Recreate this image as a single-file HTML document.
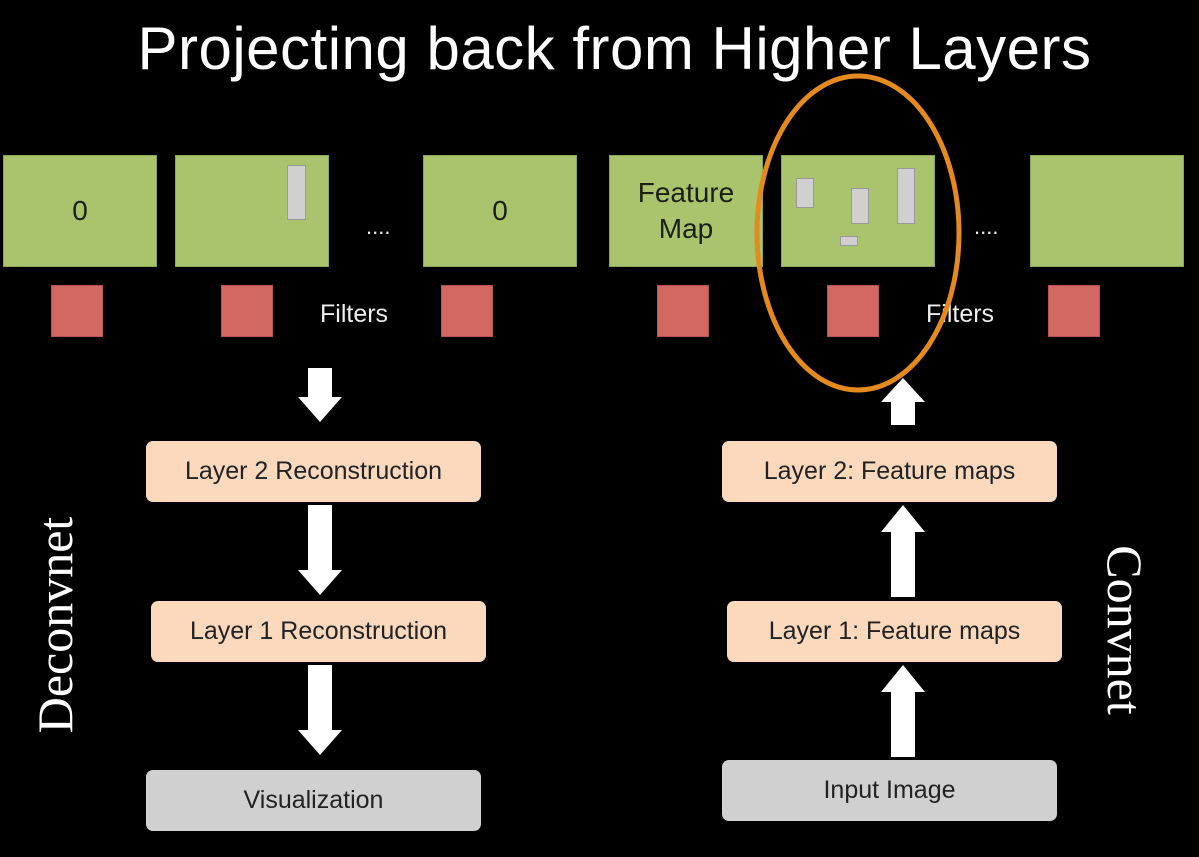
<!DOCTYPE html>
<html><head><style>
body{margin:0;background:#000;width:1199px;height:857px;overflow:hidden;position:relative;font-family:"Liberation Sans",sans-serif}
.g{position:absolute;top:155px;height:112px;width:154px;background:#a9c46c;border:1px solid #8aa654;box-sizing:border-box;color:#1a2010;font-size:28px;display:flex;align-items:center;justify-content:center;text-align:center;line-height:36px}
.r{position:absolute;top:285px;width:52px;height:52px;background:#d36761;border:1px solid #b85550;box-sizing:border-box}
.b{position:absolute;background:#d0d0d0;border:1px solid #999;box-sizing:border-box}
.n{position:absolute;height:61px;width:335px;border-radius:7px;background:#fcd8bd;color:#222;font-size:25px;display:flex;align-items:center;justify-content:center}
.gr{background:#d0d0d0}
.t{position:absolute;color:#eee;font-size:25px}
</style></head><body>
<div style="position:absolute;left:0;width:1229px;top:14px;text-align:center;color:#fff;font-size:60px;letter-spacing:0.5px">Projecting back from Higher Layers</div>
<div class="g" style="left:3px">0</div>
<div class="g" style="left:175px"></div>
<div class="g" style="left:423px">0</div>
<div class="g" style="left:609px">Feature<br>Map</div>
<div class="g" style="left:781px"></div>
<div class="g" style="left:1030px"></div>
<div class="b" style="left:287px;top:165px;width:19px;height:55px"></div>
<div class="b" style="left:796px;top:178px;width:18px;height:30px"></div>
<div class="b" style="left:851px;top:188px;width:18px;height:36px"></div>
<div class="b" style="left:897px;top:168px;width:18px;height:56px"></div>
<div class="b" style="left:840px;top:236px;width:18px;height:10px"></div>
<div class="r" style="left:51px"></div><div class="r" style="left:221px"></div><div class="r" style="left:441px"></div>
<div class="r" style="left:657px"></div><div class="r" style="left:827px"></div><div class="r" style="left:1048px"></div>
<div class="t" style="left:366px;top:214px;font-size:22px">....</div>
<div class="t" style="left:974px;top:214px;font-size:22px">....</div>
<div class="t" style="left:320px;top:300px">Filters</div>
<div class="t" style="left:926px;top:300px">Filters</div>
<svg width="1199" height="857" style="position:absolute;left:0;top:0">
<ellipse cx="858" cy="233" rx="101" ry="157" fill="none" stroke="#e58a1f" stroke-width="5"/>
<g fill="#fff">
<polygon points="308,368 332,368 332,397 342,397 320,422 298,397 308,397"/>
<polygon points="308,505 332,505 332,570 342,570 320,595 298,570 308,570"/>
<polygon points="308,665 332,665 332,730 342,730 320,755 298,730 308,730"/>
<polygon points="891,757 915,757 915,692 925,692 903,665 881,692 891,692"/>
<polygon points="891,597 915,597 915,532 925,532 903,505 881,532 891,532"/>
<polygon points="891,425 915,425 915,402 925,402 903,378 881,402 891,402"/>
</g></svg>
<div class="n" style="left:146px;top:441px">Layer 2 Reconstruction</div>
<div class="n" style="left:151px;top:601px">Layer 1 Reconstruction</div>
<div class="n gr" style="left:146px;top:770px">Visualization</div>
<div class="n" style="left:722px;top:441px">Layer 2: Feature maps</div>
<div class="n" style="left:727px;top:601px">Layer 1: Feature maps</div>
<div class="n gr" style="left:722px;top:760px">Input Image</div>
<div style="position:absolute;left:55px;top:625px;transform:translate(-50%,-50%) rotate(-90deg);color:#fff;font-family:'Liberation Serif',serif;font-size:50px;white-space:nowrap">Deconvnet</div>
<div style="position:absolute;left:1125px;top:630px;transform:translate(-50%,-50%) rotate(90deg);color:#fff;font-family:'Liberation Serif',serif;font-size:50px;white-space:nowrap">Convnet</div>
</body></html>
